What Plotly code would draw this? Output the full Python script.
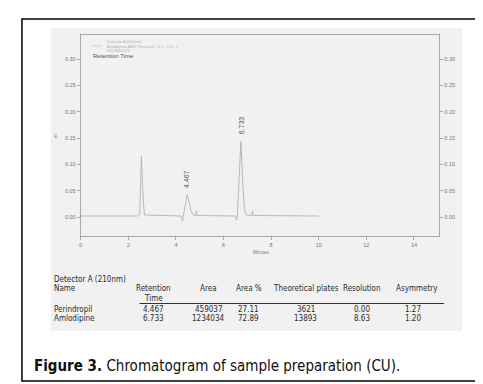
import plotly.graph_objects as go

# ---------------- data ----------------
time_min = [0.0, 2.40, 2.48, 2.55, 2.63, 2.68, 4.22, 4.28, 4.31, 4.38, 4.47, 4.55,
            4.63, 4.72, 4.84, 4.86, 4.88, 6.50, 6.55, 6.58, 6.65, 6.73, 6.80, 6.88,
            6.95, 7.20, 7.22, 7.24, 10.0]
absorbance = [0.002, 0.002, 0.006, 0.116, 0.030, 0.004, 0.002, -0.008, 0.002, 0.020,
              0.042, 0.030, 0.012, 0.004, 0.003, 0.012, 0.003, 0.002, -0.006, 0.003,
              0.060, 0.144, 0.070, 0.015, 0.004, 0.003, 0.012, 0.003, 0.002]

peak_rt = [4.467, 6.733]
peak_height = [0.042, 0.144]
peak_labels = ["4.467", "6.733"]

x_ticks = [0, 2, 4, 6, 8, 10, 12, 14]
y_ticks = [0.00, 0.05, 0.10, 0.15, 0.20, 0.25, 0.30]
y_tick_text = ["0.00", "0.05", "0.10", "0.15", "0.20", "0.25", "0.30"]

legend_lines = ["Detector A (210nm)", "Amlodipine AMV Precision - 6-5 - CU - 1",
                "2813160123"]

table_headers = ["Retention", "Area", "Area %", "Theoretical plates", "Resolution", "Asymmetry"]
compound_names = ["Perindropil", "Amlodipine"]
retention_times = ["4.467", "6.733"]
areas = ["459037", "1234034"]
area_pct = ["27.11", "72.89"]
theo_plates = ["3621", "13893"]
resolution = ["0.00", "8.63"]
asymmetry = ["1.27", "1.20"]

caption_bold = "Figure 3."
caption_rest = " Chromatogram of sample preparation (CU)."

# ---------------- layout helpers ----------------
W, H = 483, 384
def px(x):
    return x / W
def py(y):
    return 1 - y / H

fig = go.Figure()
fig.add_trace(go.Scatter(x=time_min, y=absorbance, mode="lines",
                         line=dict(color="#b8b8b8", width=1), showlegend=False,
                         hoverinfo="skip"))
fig.add_trace(go.Scatter(x=[0], y=[0], yaxis="y2", mode="markers",
                         marker=dict(opacity=0), showlegend=False, hoverinfo="skip"))

tick_font = dict(family="Liberation Sans, Arial, sans-serif", size=5.5, color="#777")
yr = [-0.036, 0.346]

fig.update_layout(
    width=W, height=H,
    margin=dict(l=0, r=0, t=0, b=0),
    paper_bgcolor="white",
    plot_bgcolor="rgba(0,0,0,0)",
    xaxis=dict(domain=[px(71), px(431)], range=[0, 15.06], tickvals=x_ticks,
               ticktext=[str(v) for v in x_ticks],
               showgrid=False, zeroline=False, showline=True, linecolor="#a8a8a8",
               linewidth=1, mirror=True, ticks="outside", ticklen=3,
               tickcolor="#a8a8a8", tickfont=tick_font),
    yaxis=dict(domain=[py(228), py(27)], range=yr, tickvals=y_ticks,
               ticktext=y_tick_text, showgrid=False, zeroline=False, showline=True,
               linecolor="#a8a8a8", linewidth=1, mirror=True, ticks="outside",
               ticklen=3, tickcolor="#a8a8a8", tickfont=tick_font),
    yaxis2=dict(overlaying="y", side="right", range=yr, tickvals=y_ticks,
                ticktext=y_tick_text, showgrid=False, zeroline=False, showline=False,
                ticks="outside", ticklen=3, tickcolor="#a8a8a8", tickfont=tick_font),
)

shapes = [
    dict(type="rect", xref="paper", yref="paper", x0=px(41), x1=px(454),
         y0=py(323), y1=py(20), fillcolor="#f1f1f1", line=dict(width=0), layer="below"),
    dict(type="rect", xref="paper", yref="paper", x0=px(12), x1=px(473),
         y0=py(373), y1=py(11), fillcolor="rgba(0,0,0,0)",
         line=dict(color="black", width=1.5)),
    dict(type="line", xref="paper", yref="paper", x0=px(130), x1=px(436),
         y0=py(295.5), y1=py(295.5), line=dict(color="#333", width=1.2)),
    dict(type="line", xref="paper", yref="paper", x0=px(81), x1=px(92),
         y0=py(38), y1=py(38), line=dict(color="#c8c8c8", width=0.8)),
]
fig.update_layout(shapes=shapes)

ann = []
for rt, h, lab in zip(peak_rt, peak_height, peak_labels):
    ann.append(dict(x=rt, y=h, xref="x", yref="y", text=lab, showarrow=False,
                    textangle=-90, yanchor="bottom", yshift=5,
                    font=dict(family="Liberation Sans, Arial", size=7, color="#555")))
leg_y = [33, 38, 43]
for t, yy in zip(legend_lines, leg_y):
    ann.append(dict(x=px(95), y=py(yy), xref="paper", yref="paper", text=t,
                    showarrow=False, xanchor="left", yanchor="middle",
                    font=dict(family="Liberation Sans, Arial", size=4, color="#b0b0b0")))
ann.append(dict(x=px(81), y=py(48), xref="paper", yref="paper", text="Retention Time",
                showarrow=False, xanchor="left", yanchor="middle",
                font=dict(family="Liberation Sans, Arial", size=6, color="#555")))
ann.append(dict(x=px(253), y=py(244), xref="paper", yref="paper", text="Minutes",
                showarrow=False, xanchor="center", yanchor="middle",
                font=dict(family="Liberation Sans, Arial", size=4.5, color="#777")))
ann.append(dict(x=px(42), y=py(122), xref="paper", yref="paper", text="AU",
                showarrow=False, textangle=-90,
                font=dict(family="Liberation Sans, Arial", size=4, color="#999")))

tfont = dict(family="DejaVu Sans Condensed, Liberation Sans Narrow, Liberation Sans",
             size=8, color="#2a2a2a")
ann.append(dict(x=px(42), y=py(271), xref="paper", yref="paper",
                text="Detector A (210nm)", showarrow=False, xanchor="left",
                yanchor="middle", font=tfont))
ann.append(dict(x=px(42), y=py(280), xref="paper", yref="paper", text="Name",
                showarrow=False, xanchor="left", yanchor="middle", font=tfont))
col_x = [144, 199, 240, 297, 353, 409]
for cx, head in zip(col_x, table_headers):
    ann.append(dict(x=px(cx), y=py(280), xref="paper", yref="paper", text=head,
                    showarrow=False, xanchor="center", yanchor="middle", font=tfont))
ann.append(dict(x=px(144), y=py(290.5), xref="paper", yref="paper", text="Time",
                showarrow=False, xanchor="center", yanchor="middle", font=tfont))
row_y = [301, 310]
val_x = [144, 199, 239, 297, 353, 405]
for i, ry in enumerate(row_y):
    ann.append(dict(x=px(42), y=py(ry), xref="paper", yref="paper",
                    text=compound_names[i], showarrow=False, xanchor="left",
                    yanchor="middle", font=tfont))
    vals = [retention_times[i], areas[i], area_pct[i], theo_plates[i],
            resolution[i], asymmetry[i]]
    for vx, v in zip(val_x, vals):
        ann.append(dict(x=px(vx), y=py(ry), xref="paper", yref="paper", text=v,
                        showarrow=False, xanchor="center", yanchor="middle",
                        font=tfont))

ann.append(dict(x=px(22), y=py(358), xref="paper", yref="paper",
                text="<b>" + caption_bold + "</b>" + caption_rest, showarrow=False,
                xanchor="left", yanchor="middle",
                font=dict(family="DejaVu Sans Condensed, Liberation Sans Narrow, Liberation Sans",
                          size=15, color="#111")))

fig.update_layout(annotations=ann)
fig.write_html("out.html")
